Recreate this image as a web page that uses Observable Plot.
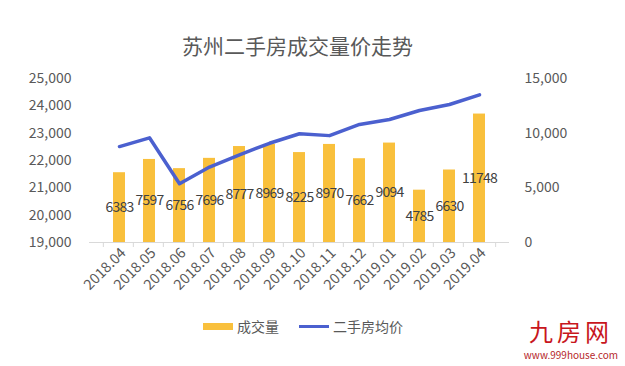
<!DOCTYPE html>
<html><head><meta charset="utf-8">
<script src="https://cdn.jsdelivr.net/npm/d3@7"></script>
<script src="https://cdn.jsdelivr.net/npm/@observablehq/plot@0.6"></script>
<style>
html,body{margin:0;padding:0;background:#fff;}
#wrap{position:relative;width:625px;height:366px;overflow:hidden;font-family:"Noto Sans CJK SC","Noto Sans",sans-serif;}
#chart{position:absolute;left:0;top:0;}
#title{position:absolute;left:0;width:595px;top:30px;text-align:center;font-size:21px;color:#595959;line-height:30px;}
#legend{position:absolute;top:316px;left:203px;font-size:14px;color:#595959;display:flex;align-items:center;line-height:20px;}
.sw{display:inline-block;width:30px;margin-right:4px;}
#logoBig{position:absolute;left:518px;top:318px;width:106px;height:26px;text-align:center;color:#c8161d;font-size:24px;line-height:26px;letter-spacing:4px;}
#logoSmall{position:absolute;left:518px;top:348px;width:106px;height:13px;text-align:center;color:#b5262a;font-size:10px;line-height:13px;}
.vlab text{letter-spacing:-0.8px;}
</style></head>
<body><div id="wrap">
<div id="chart"></div>
<div id="title">苏州二手房成交量价走势</div>
<div id="legend"><span class="sw" style="height:7px;background:#F9C03C"></span><span style="margin-right:20px">成交量</span><span class="sw" style="height:3px;background:#4B60CF;"></span><span>二手房均价</span></div>
<div id="logoBig">九房网</div>
<div id="logoSmall">www.999house.com</div>
</div>
<script>
const months = ["2018.04","2018.05","2018.06","2018.07","2018.08","2018.09","2018.10","2018.11","2018.12","2019.01","2019.02","2019.03","2019.04"];
const volume = [6383,7597,6756,7696,8777,8969,8225,8970,7662,9094,4785,6630,11748];
const price = [22510,22830,21150,21760,22210,22630,22980,22910,23320,23500,23830,24050,24400];
const priceTicks = [19000,20000,21000,22000,23000,24000,25000];
const volumeTicks = [0,5000,10000,15000];

// map price (left axis 19000–25000) onto the volume scale (0–15000)
const pMin = 19000, pMax = 25000, vMax = 15000;
const toVol = p => (p - pMin) / (pMax - pMin) * vMax;
const toPrice = v => pMin + v / vMax * (pMax - pMin);

const rows = months.map((m,i)=>({month:m, volume:volume[i], price:price[i], pv:toVol(price[i])}));
const fmt = d3.format(",");
const W = 625, H = 366, ml = 89, mr = 116, mt = 78, mb = 124;
const step = (W - ml - mr) / months.length;

const chart = Plot.plot({
  width: W, height: H,
  marginLeft: ml, marginRight: mr, marginTop: mt, marginBottom: mb,
  style: {fontFamily: '"Noto Sans CJK SC","Noto Sans",sans-serif', fontSize: "13px", color: "#595959", background: "transparent"},
  x: {type: "band", domain: months, padding: 0.6, align: 0.5},
  y: {domain: [0, vMax]},
  marks: [
    Plot.barY(rows, {x: "month", y: "volume", fill: "#F9C03C"}),
    Plot.ruleY([0], {stroke: "#d9d9d9", strokeWidth: 1}),
    Plot.axisX({ticks: months, tickSize: 5, tickFormat: null, stroke: "#d9d9d9", dx: -step/2, label: null}),
    Plot.axisX({ticks: [months[months.length-1]], tickSize: 5, tickFormat: null, stroke: "#d9d9d9", dx: step/2, label: null}),
    Plot.axisX({ticks: months, tickSize: 0, tickPadding: 8, tickRotate: -45, fill: "#595959", fontSize: 14.5, dx: 4, label: null}),
    Plot.axisY(priceTicks.map(toVol), {anchor: "left", tickSize: 0, tickPadding: 18, tickFormat: d => fmt(Math.round(toPrice(d))), fill: "#595959", fontSize: 14, label: null}),
    Plot.axisY(volumeTicks, {anchor: "right", tickSize: 0, tickPadding: 15, tickFormat: d => fmt(d), fill: "#595959", fontSize: 14, label: null}),
    Plot.line(rows, {x: "month", y: "pv", stroke: "#4B60CF", strokeWidth: 3.5, strokeLinejoin: "round", strokeLinecap: "round"}),
    Plot.text(rows, {x: "month", y: d => d.volume / 2, text: d => String(d.volume), fill: "#404040", fontSize: 14, className: "vlab"})
  ]
});
document.getElementById("chart").appendChild(chart);
</script>
</body></html>
